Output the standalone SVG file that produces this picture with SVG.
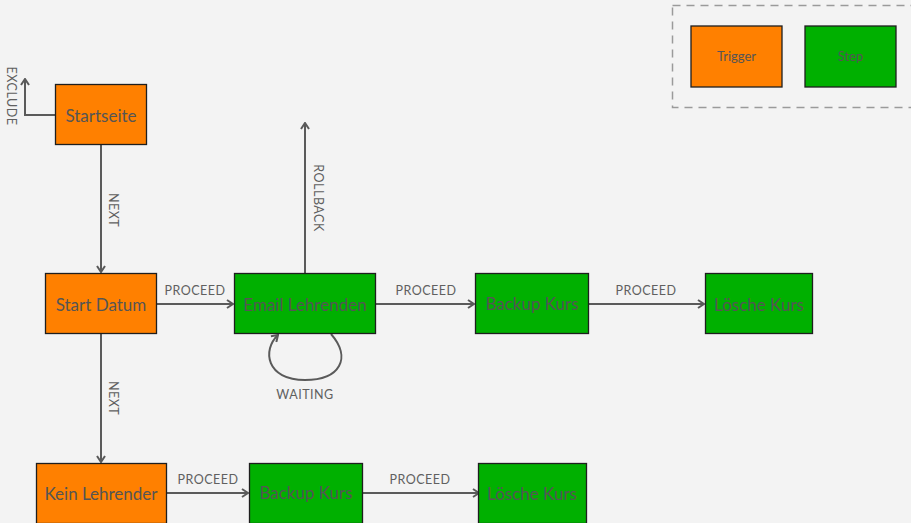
<svg xmlns="http://www.w3.org/2000/svg" width="911" height="523" viewBox="0 0 911 523">
  <style>
    .node rect { stroke: #1e1e1e; stroke-width: 1.3; }
    .trigger rect { fill: #ff8000; }
    .step rect { fill: #00b000; }
    .node text { font-family: Lato, "DejaVu Sans", sans-serif; font-size: 17px; fill: #555; text-anchor: middle; dominant-baseline: central; }
    .edge { fill: none; stroke: #5a5a5a; stroke-width: 2; }
    .lbl { font-family: Lato, "DejaVu Sans", sans-serif; font-size: 12.5px; fill: #606060; text-anchor: middle; letter-spacing: 0.5px; }
    .legend text { font-size: 13px; }
  </style>
  <defs>
    <marker id="arrow" viewBox="0 0 10 10" refX="9" refY="5" markerWidth="10" markerHeight="10" markerUnits="userSpaceOnUse" orient="auto">
      <path d="M3,1 L9,5 L3,9" fill="none" stroke="#5a5a5a" stroke-width="2"/>
    </marker>
  </defs>
  <rect width="911" height="523" fill="#f3f3f3"/>

  <!-- legend -->
  <g id="legend" class="legend">
    <rect x="672.5" y="5.5" width="260" height="102" fill="none" stroke="#9a9a9a" stroke-width="1.5" stroke-dasharray="8,6"/>
    <g class="node trigger"><rect x="691" y="26" width="91" height="61"/><text x="736.5" y="56">Trigger</text></g>
    <g class="node step"><rect x="805" y="26" width="91" height="61"/><text x="850.5" y="56">Step</text></g>
  </g>

  <!-- connectors -->
  <g id="connectors">
    <path class="edge" d="M55,115 H25 V79" marker-end="url(#arrow)"/>
    <text class="lbl" transform="translate(7,96) rotate(90)">EXCLUDE</text>

    <path class="edge" d="M101,145 V272" marker-end="url(#arrow)"/>
    <text class="lbl" transform="translate(109,210) rotate(90)">NEXT</text>

    <path class="edge" d="M101,333 V462" marker-end="url(#arrow)"/>
    <text class="lbl" transform="translate(109,398) rotate(90)">NEXT</text>

    <path class="edge" d="M156,304 H233" marker-end="url(#arrow)"/>
    <text class="lbl" x="195" y="295">PROCEED</text>

    <path class="edge" d="M376,304 H474" marker-end="url(#arrow)"/>
    <text class="lbl" x="426" y="295">PROCEED</text>

    <path class="edge" d="M588,304 H704" marker-end="url(#arrow)"/>
    <text class="lbl" x="646" y="295">PROCEED</text>

    <path class="edge" d="M305,273 V123" marker-end="url(#arrow)"/>
    <text class="lbl" transform="translate(314,198) rotate(90)">ROLLBACK</text>

    <path class="edge" d="M331,334 C352,358 340,380 305,380 C266,380 262,350 278,335" marker-end="url(#arrow)"/>
    <text class="lbl" x="305" y="399">WAITING</text>

    <path class="edge" d="M166,493 H248" marker-end="url(#arrow)"/>
    <text class="lbl" x="208" y="484">PROCEED</text>

    <path class="edge" d="M363,493 H479" marker-end="url(#arrow)"/>
    <text class="lbl" x="420" y="484">PROCEED</text>
  </g>

  <!-- nodes -->
  <g id="startseite" class="node trigger"><rect x="55.5" y="84.5" width="91" height="60"/><text x="101" y="115">Startseite</text></g>
  <g id="start-datum" class="node trigger"><rect x="45.5" y="273.5" width="111" height="60"/><text x="101" y="304">Start Datum</text></g>
  <g id="email-lehrenden" class="node step"><rect x="234.5" y="273.5" width="141" height="60"/><text x="305" y="304">Email Lehrenden</text></g>
  <g id="backup-kurs-1" class="node step"><rect x="475.5" y="273.5" width="113" height="60"/><text x="532" y="303">Backup Kurs</text></g>
  <g id="loesche-kurs-1" class="node step"><rect x="705.5" y="273.5" width="107" height="60"/><text x="759" y="304">Lösche Kurs</text></g>
  <g id="kein-lehrender" class="node trigger"><rect x="36.5" y="463.5" width="130" height="60"/><text x="101" y="493">Kein Lehrender</text></g>
  <g id="backup-kurs-2" class="node step"><rect x="249.5" y="463.5" width="113" height="60"/><text x="306" y="492">Backup Kurs</text></g>
  <g id="loesche-kurs-2" class="node step"><rect x="478.5" y="463.5" width="108" height="60"/><text x="532" y="493">Lösche Kurs</text></g>
</svg>
